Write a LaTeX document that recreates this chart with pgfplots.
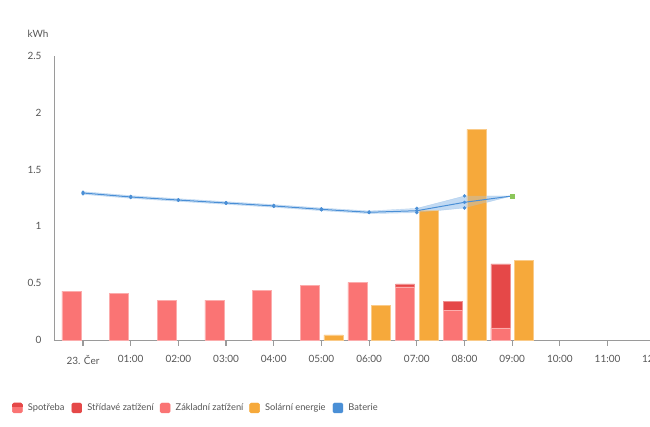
\documentclass[border=0pt]{standalone}
\usepackage{fontspec}
\setmainfont{Lato}
\usepackage{pgfplots}
\pgfplotsset{compat=1.18}
\definecolor{baseR}{HTML}{FA7474}
\definecolor{altR}{HTML}{E54848}
\definecolor{solar}{HTML}{F6A93B}
\definecolor{batt}{HTML}{4A8FD6}
\definecolor{band}{HTML}{A9CBEE}
\definecolor{grn}{HTML}{8CC65A}
\definecolor{axisg}{HTML}{9A9A9A}
\definecolor{labg}{HTML}{555555}
\begin{document}
\begin{tikzpicture}
\begin{axis}[
  at={(54pt,87pt)}, anchor=south west, scale only axis,
  width=596pt, height=284pt,
  xmin=-0.608, xmax=11.89, ymin=0, ymax=2.5,
  clip=false,
  axis x line*=bottom, axis y line*=left,
  axis line style={axisg, line width=0.8pt},
  xtick={0,1,2,3,4,5,6,7,8,9,10,11},
  xticklabels={23. Čer,01:00,02:00,03:00,04:00,05:00,06:00,07:00,08:00,09:00,10:00,11:00},
  ytick={0,0.5,1,1.5,2,2.5},
  yticklabels={0,0.5,1,1.5,2,2.5},
  tick label style={font=\fontsize{10}{12}\selectfont, text=labg},
  tick align=outside, major tick length=6pt,
  xtick style={axisg, line width=1.2pt},
  ytick style={draw=none},
  xticklabel style={yshift=-6pt},
  yticklabel style={xshift=-3pt},
  /pgf/number format/assume math mode=true,
  legend columns=5,
  legend style={at={(-0.0705,-0.2394)}, anchor=west, draw=none, inner sep=0pt,
    font=\fontsize{9.3}{10}\selectfont, text=labg,
    nodes={inner sep=0pt, anchor=west},
    /tikz/every odd column/.style={column sep=5.3pt},
    /tikz/every even column/.style={column sep=0pt}},
]
% battery band
\addplot[fill=band, fill opacity=0.55, draw=batt, draw opacity=0.25, forget plot] coordinates {
  (0,1.306) (1,1.271) (2,1.244) (3,1.218) (4,1.192) (5,1.162) (6,1.136) (7,1.159) (8,1.268) (9,1.268)
  (9,1.268) (8,1.162) (7,1.121) (6,1.112) (5,1.138) (4,1.168) (3,1.194) (2,1.220) (1,1.247) (0,1.282)
} -- cycle;
% consumption total (alternating on top)
\addplot[ybar, bar shift=0pt, bar width=0.4, fill=altR, draw=altR!60!white, forget plot] coordinates {
  (6.755,0.493) (7.755,0.343) (8.755,0.669)
};
% base load
\addplot[ybar, bar shift=0pt, bar width=0.4, fill=baseR, draw=baseR!60!white, forget plot] coordinates {
  (-0.245,0.430) (0.755,0.412) (1.755,0.350) (2.755,0.350) (3.755,0.440)
  (4.755,0.478) (5.755,0.508) (6.755,0.469) (7.755,0.264) (8.755,0.106)
};
% solar
\addplot[ybar, bar shift=0pt, bar width=0.4, fill=solar, draw=solar!60!white, forget plot] coordinates {
  (5.25,0.044) (6.25,0.302) (7.25,1.144) (8.25,1.855) (9.25,0.704)
};
% battery band over bars (translucent)
\addplot[fill=band, fill opacity=0.35, draw=none, forget plot] coordinates {
  (7,1.159) (8,1.268) (9,1.268) (9,1.268) (8,1.162) (7,1.121)
} -- cycle;
% battery line
\addplot[batt, line width=1pt, forget plot] coordinates {
  (0,1.294) (1,1.259) (2,1.232) (3,1.206) (4,1.180) (5,1.150) (6,1.124) (7,1.138) (8,1.212) (9,1.268)
};
% markers with ranges
\addplot[only marks, mark=*, mark size=1.6pt, batt, forget plot,
  error bars/.cd, y dir=both, y explicit,
  error bar style={batt, line width=1.3pt}, error mark=*, error mark options={mark size=1.1pt, batt}]
  coordinates {
  (0,1.294) +- (0,0.010)
  (1,1.259) +- (0,0.008)
  (2,1.232) +- (0,0.006)
  (3,1.206) +- (0,0.006)
  (4,1.180) +- (0,0.008)
  (5,1.150) +- (0,0.008)
  (6,1.124) +- (0,0.006)
};
\addplot[only marks, mark=*, mark size=1.5pt, batt, forget plot] coordinates {
  (7,1.159) (7,1.138) (7,1.121) (8,1.268) (8,1.212) (8,1.162)
};
\addplot[only marks, mark=square*, mark size=1.8pt, grn, forget plot] coordinates {(9,1.268)};
% legend
\addlegendimage{legend image code/.code={
  \fill[baseR, rounded corners=1.5pt] (0pt,-5pt) rectangle (10pt,5pt);
  \fill[altR, rounded corners=1.5pt] (0pt,1.5pt) rectangle (10pt,5pt);
  \fill[altR] (0pt,1.5pt) rectangle (10pt,3pt);}}
\addlegendentry{\makebox[43.7pt][l]{Spotřeba}}
\addlegendimage{legend image code/.code={\fill[altR, rounded corners=1.5pt] (0pt,-5pt) rectangle (10pt,5pt);}}
\addlegendentry{\makebox[72.7pt][l]{Střídavé zatížení}}
\addlegendimage{legend image code/.code={\fill[baseR, rounded corners=1.5pt] (0pt,-5pt) rectangle (10pt,5pt);}}
\addlegendentry{\makebox[73.7pt][l]{Základní zatížení}}
\addlegendimage{legend image code/.code={\fill[solar, rounded corners=1.5pt] (0pt,-5pt) rectangle (10pt,5pt);}}
\addlegendentry{\makebox[67.7pt][l]{Solární energie}}
\addlegendimage{legend image code/.code={\fill[batt, rounded corners=1.5pt] (0pt,-5pt) rectangle (10pt,5pt);}}
\addlegendentry{Baterie}
\end{axis}
\node[font=\fontsize{10}{12}\selectfont, text=labg] at (38pt,393pt) {kWh};
\node[font=\fontsize{10}{12}\selectfont, text=labg, anchor=base] at (655pt,64pt) {12:00};
\pgfresetboundingbox
\path (0pt,0pt) rectangle (650pt,427pt);
\end{tikzpicture}
\end{document}
